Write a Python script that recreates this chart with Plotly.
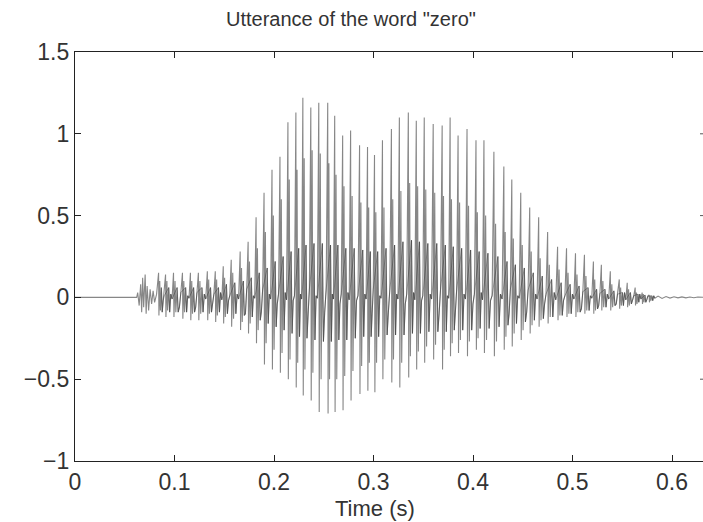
import plotly.graph_objects as go

# Silence before the word
lead_time = [0.0, 0.062]
lead_value = [0.0, 0.0]

# Onset of the /z/ (short noisy burst)
burst_time = [0.063, 0.0645, 0.066, 0.067, 0.068, 0.069, 0.0705, 0.0715,
              0.0725, 0.074, 0.0755, 0.077, 0.0785, 0.080, 0.082]
burst_value = [0.03, -0.05, 0.08, -0.09, 0.12, -0.06, 0.14, -0.10,
               0.07, -0.08, 0.05, -0.04, 0.04, -0.03, 0.02]

# Voiced part: one entry per glottal pulse
pulse_time = [0.084, 0.091, 0.099, 0.108, 0.116, 0.124, 0.133, 0.141, 0.149, 0.157,
              0.166, 0.174, 0.182, 0.190, 0.198, 0.206, 0.214, 0.222, 0.229, 0.237,
              0.245, 0.254, 0.261, 0.269, 0.277, 0.286, 0.294, 0.301, 0.309, 0.318,
              0.326, 0.335, 0.343, 0.351, 0.360, 0.369, 0.377, 0.385, 0.394, 0.403,
              0.411, 0.421, 0.431, 0.439, 0.448, 0.457, 0.466, 0.475, 0.485, 0.494,
              0.503, 0.512, 0.521, 0.529, 0.538, 0.547, 0.555, 0.563, 0.570, 0.577]
peak_hi = [0.15, 0.14, 0.15, 0.15, 0.15, 0.15, 0.16, 0.16, 0.19, 0.23,
           0.28, 0.34, 0.49, 0.64, 0.78, 0.86, 1.07, 1.13, 1.22, 1.16,
           1.19, 1.19, 1.11, 0.99, 1.02, 0.93, 0.92, 0.87, 0.96, 1.03,
           1.10, 1.13, 1.08, 1.10, 1.06, 1.05, 1.10, 0.99, 1.03, 0.96,
           0.96, 0.89, 0.80, 0.72, 0.64, 0.55, 0.49, 0.40, 0.31, 0.30,
           0.27, 0.26, 0.22, 0.20, 0.16, 0.11, 0.09, 0.06, 0.03, 0.015]
peak_lo = [-0.11, -0.12, -0.12, -0.13, -0.14, -0.14, -0.14, -0.15, -0.16, -0.18,
           -0.20, -0.22, -0.28, -0.41, -0.44, -0.46, -0.50, -0.55, -0.60, -0.63,
           -0.70, -0.71, -0.70, -0.69, -0.63, -0.59, -0.57, -0.58, -0.50, -0.52,
           -0.55, -0.49, -0.44, -0.40, -0.38, -0.44, -0.36, -0.34, -0.36, -0.32,
           -0.34, -0.36, -0.32, -0.30, -0.26, -0.22, -0.18, -0.16, -0.14, -0.12,
           -0.12, -0.10, -0.10, -0.08, -0.08, -0.07, -0.06, -0.05, -0.04, -0.03]
second_hi = [0.10, 0.10, 0.10, 0.10, 0.10, 0.10, 0.11, 0.11, 0.12, 0.15,
             0.18, 0.22, 0.30, 0.40, 0.50, 0.60, 0.72, 0.78, 0.85, 0.90,
             0.88, 0.82, 0.75, 0.68, 0.62, 0.58, 0.55, 0.52, 0.55, 0.60,
             0.65, 0.70, 0.68, 0.66, 0.64, 0.62, 0.60, 0.58, 0.56, 0.52,
             0.50, 0.45, 0.40, 0.36, 0.32, 0.28, 0.24, 0.20, 0.17, 0.15,
             0.14, 0.13, 0.11, 0.10, 0.08, 0.06, 0.05, 0.03, 0.02, 0.01]
second_lo = [-0.08, -0.08, -0.09, -0.09, -0.10, -0.10, -0.10, -0.11, -0.12, -0.13,
             -0.15, -0.16, -0.20, -0.28, -0.32, -0.34, -0.38, -0.40, -0.44, -0.46,
             -0.50, -0.50, -0.50, -0.48, -0.45, -0.42, -0.40, -0.40, -0.38, -0.38,
             -0.40, -0.36, -0.33, -0.30, -0.29, -0.32, -0.28, -0.26, -0.27, -0.25,
             -0.26, -0.27, -0.24, -0.22, -0.20, -0.17, -0.14, -0.12, -0.11, -0.10,
             -0.09, -0.08, -0.08, -0.06, -0.06, -0.05, -0.05, -0.04, -0.03, -0.02]
band_hi = [0.06, 0.06, 0.06, 0.06, 0.06, 0.06, 0.06, 0.06, 0.08, 0.09,
           0.10, 0.12, 0.15, 0.18, 0.22, 0.25, 0.28, 0.30, 0.32, 0.33,
           0.33, 0.32, 0.32, 0.30, 0.30, 0.29, 0.28, 0.28, 0.30, 0.32,
           0.34, 0.35, 0.34, 0.33, 0.33, 0.32, 0.31, 0.30, 0.29, 0.28,
           0.27, 0.25, 0.22, 0.20, 0.18, 0.15, 0.13, 0.11, 0.09, 0.08,
           0.07, 0.06, 0.05, 0.05, 0.04, 0.03, 0.03, 0.02, 0.015, 0.01]
band_lo = [-0.09, -0.09, -0.09, -0.09, -0.09, -0.09, -0.09, -0.09, -0.10, -0.10,
           -0.11, -0.12, -0.14, -0.16, -0.18, -0.20, -0.22, -0.24, -0.25, -0.26,
           -0.27, -0.27, -0.26, -0.26, -0.25, -0.24, -0.24, -0.24, -0.23, -0.23,
           -0.23, -0.22, -0.22, -0.21, -0.21, -0.21, -0.20, -0.20, -0.20, -0.19,
           -0.19, -0.18, -0.17, -0.16, -0.15, -0.14, -0.13, -0.12, -0.11, -0.10,
           -0.09, -0.08, -0.07, -0.06, -0.05, -0.05, -0.04, -0.03, -0.03, -0.02]
# Small residual wiggle near the axis between pulses
rest_value = [-0.02, 0.01, -0.04, 0.02, -0.09, 0.03, -0.10, 0.02]

# Fade-out after the last pulse
tail_time = [0.586, 0.590, 0.594, 0.598, 0.602, 0.606, 0.610, 0.614,
             0.618, 0.622, 0.626, 0.630, 0.634]
tail_value = [0.008, -0.006, 0.005, -0.004, 0.004, -0.003, 0.003, -0.003,
              0.002, -0.002, 0.002, -0.001, 0.0]

x_ticks = [0, 0.1, 0.2, 0.3, 0.4, 0.5, 0.6]
y_ticks = [-1, -0.5, 0, 0.5, 1, 1.5]

# Where, inside one pitch period, each reading is placed (fraction of the period)
slot = [0.0, 0.05, 0.17, 0.26, 0.40, 0.52, 0.66, 0.82]

t_all = list(lead_time) + list(burst_time)
v_all = list(lead_value) + list(burst_value)
t_core, v_core = [], []
for i, t0 in enumerate(pulse_time):
    period = (pulse_time[i + 1] - t0) if i + 1 < len(pulse_time) else 0.007
    small = rest_value[(i * 3) % len(rest_value)]
    lim = min(band_hi[i], -band_lo[i])
    small = max(-lim, min(lim, small))
    vals = [peak_hi[i], peak_lo[i], second_hi[i], second_lo[i],
            band_hi[i], band_lo[i], small, -small * 0.5]
    for k, (f, v) in enumerate(zip(slot, vals)):
        t_all.append(t0 + f * period)
        v_all.append(v)
        if k >= 4:
            t_core.append(t0 + f * period)
            v_core.append(v)
t_all += tail_time
v_all += tail_value

fig = go.Figure()
fig.add_trace(go.Scatter(x=t_all, y=v_all, mode="lines",
                         line=dict(color="rgb(135,135,135)", width=1.1),
                         hoverinfo="skip", showlegend=False))
# Darker body of the waveform around the axis
fig.add_trace(go.Scatter(x=t_core, y=v_core, mode="lines",
                         line=dict(color="rgba(50,50,50,0.45)", width=1),
                         hoverinfo="skip", showlegend=False))

W, H = 703, 522
L, R, T, B = 75, 0, 52, 61
x_max = (W - L - R) / 995.0

font = "Liberation Sans Narrow, Arial Narrow, Liberation Sans, Arial, sans-serif"
axis_common = dict(showgrid=False, zeroline=False, showline=True,
                   linecolor="#222", linewidth=1.3, ticks="inside", ticklen=6,
                   tickcolor="#222", tickwidth=1,
                   tickfont=dict(family=font, size=23, color="#333"))

fig.update_layout(
    width=W, height=H,
    margin=dict(l=L, r=R, t=T, b=B),
    paper_bgcolor="white", plot_bgcolor="white",
    xaxis=dict(range=[0, x_max], tickvals=x_ticks, mirror="ticks", **axis_common),
    yaxis=dict(range=[-1, 1.5], tickvals=y_ticks, mirror=False, **axis_common),
    annotations=[
        dict(text='Utterance of the word "zero"', xref="paper", yref="paper",
             x=(351 - L) / (W - L - R), y=(H - B - 19) / (H - T - B),
             xanchor="center", yanchor="middle", showarrow=False,
             font=dict(family=font, size=20, color="#333")),
        dict(text="Time (s)", xref="paper", yref="paper",
             x=(375 - L) / (W - L - R), y=(H - B - 508) / (H - T - B),
             xanchor="center", yanchor="middle", showarrow=False,
             font=dict(family=font, size=22, color="#333")),
    ],
)

# Inward ticks of the right-hand frame, just at the edge
for yv in [1, 0.5, -0.5]:
    fig.add_shape(type="line", xref="paper", yref="y", xsizemode="pixel",
                  xanchor=1, x0=-3, x1=0, y0=yv, y1=yv,
                  line=dict(color="#555", width=1))

fig.write_html("out.html")
